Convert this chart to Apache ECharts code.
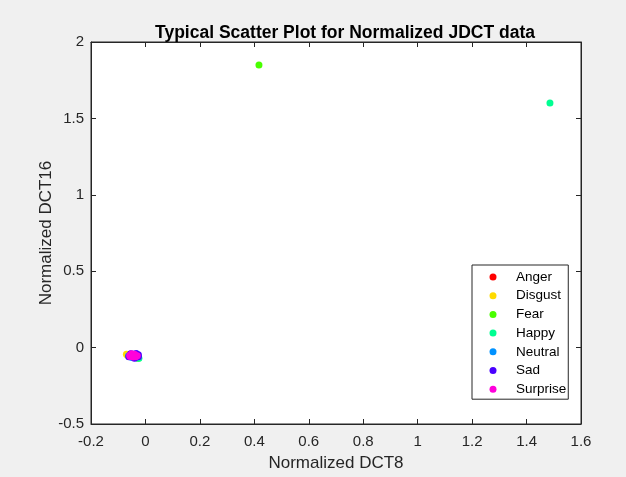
<!DOCTYPE html>
<html>
<head>
<meta charset="utf-8">
<script src="https://cdn.jsdelivr.net/npm/echarts@6/dist/echarts.min.js"></script>
<style>
html,body{margin:0;padding:0;background:#F0F0F0;}
#c{width:626px;height:477px;}
</style>
</head>
<body>
<div id="c"></div>
<script>
var classNames = ['Anger','Disgust','Fear','Happy','Neutral','Sad','Surprise'];
var classColors = ['#FF0000','#FFDB00','#49FF00','#00FF92','#0092FF','#4900FF','#FF00DB'];
var anger    = [[-0.048,-0.050],[-0.041,-0.056],[-0.052,-0.047],[-0.037,-0.052]];
var disgust  = [[-0.070,-0.044],[-0.066,-0.050],[-0.060,-0.046],[-0.052,-0.054]];
var fear     = [[0.417,1.849],[-0.026,-0.069],[-0.034,-0.066],[-0.045,-0.060]];
var happy    = [[1.486,1.601],[-0.024,-0.070],[-0.031,-0.066],[-0.042,-0.054]];
var neutral  = [[-0.062,-0.054],[-0.050,-0.064],[-0.036,-0.063],[-0.045,-0.044]];
var sad      = [[-0.061,-0.060],[-0.026,-0.060],[-0.040,-0.069],[-0.054,-0.040],[-0.026,-0.046],[-0.034,-0.038]];
var surprise = [[-0.058,-0.052],[-0.050,-0.041],[-0.040,-0.043],[-0.030,-0.053],[-0.046,-0.062],[-0.056,-0.058],[-0.036,-0.060],[-0.047,-0.051]];
var classData = [anger, disgust, fear, happy, neutral, sad, surprise];

var xMin = -0.2, xMax = 1.6, xStep = 0.2;
var yMin = -0.5, yMax = 2, yStep = 0.5;

var axisColor = '#262626';
var font = 'Liberation Sans, Arial, sans-serif';

function fmt(v){ return (Math.round(v*10)/10).toString(); }

var series = classNames.map(function(n,i){
  return {
    name: n, type: 'scatter', data: classData[i],
    symbol: 'circle', symbolSize: 7,
    itemStyle: {color: classColors[i], opacity: 1},
    xAxisIndex: 0, yAxisIndex: 0, animation: false
  };
});

var chart = echarts.init(document.getElementById('c'));
chart.setOption({
  backgroundColor: '#F0F0F0',
  animation: false,
  title: {
    text: 'Typical Scatter Plot for Normalized JDCT data',
    left: 340, top: 19, textAlign: 'center',
    textStyle: {fontFamily: font, fontWeight: 'bold', fontSize: 17.5, color: '#000'}
  },
  grid: {
    left: 91, top: 42, right: 45, bottom: 48,
    show: true, backgroundColor: '#FFFFFF', borderColor: axisColor, borderWidth: 1
  },
  legend: {
    orient: 'vertical', left: 472, top: 265,
    data: classNames,
    icon: 'circle', itemWidth: 7, itemHeight: 7, itemGap: 4.7,
    padding: [5, 2, 3, 17.5],
    borderColor: '#262626', borderWidth: 1, backgroundColor: '#FFFFFF',
    textStyle: {fontFamily: font, fontSize: 13.5, color: '#000', lineHeight: 14, padding: [0,0,0,14.5]}
  },
  xAxis: [{
    type: 'value', min: xMin, max: xMax, interval: xStep, position: 'bottom',
    name: 'Normalized DCT8', nameLocation: 'middle', nameGap: 31, nameMoveOverlap: false,
    nameTextStyle: {fontFamily: font, fontSize: 17, color: axisColor},
    axisLine: {show: true, onZero: false, lineStyle: {color: axisColor}},
    axisTick: {show: true, inside: true, length: 5, lineStyle: {color: axisColor}},
    axisLabel: {fontFamily: font, fontSize: 15, color: axisColor, margin: 10, formatter: fmt},
    splitLine: {show: false}
  },{
    type: 'value', min: xMin, max: xMax, interval: xStep, position: 'top',
    axisLine: {show: true, onZero: false, lineStyle: {color: axisColor}},
    axisTick: {show: true, inside: true, length: 5, lineStyle: {color: axisColor}},
    axisLabel: {show: false}, splitLine: {show: false}
  }],
  yAxis: [{
    type: 'value', min: yMin, max: yMax, interval: yStep, position: 'left',
    name: 'Normalized DCT16', nameLocation: 'middle', nameGap: 36, nameMoveOverlap: false,
    nameTextStyle: {fontFamily: font, fontSize: 17, color: axisColor},
    axisLine: {show: true, onZero: false, lineStyle: {color: axisColor}},
    axisTick: {show: true, inside: true, length: 5, lineStyle: {color: axisColor}},
    axisLabel: {fontFamily: font, fontSize: 15, color: axisColor, margin: 7, formatter: fmt},
    splitLine: {show: false}
  },{
    type: 'value', min: yMin, max: yMax, interval: yStep, position: 'right',
    axisLine: {show: true, onZero: false, lineStyle: {color: axisColor}},
    axisTick: {show: true, inside: true, length: 5, lineStyle: {color: axisColor}},
    axisLabel: {show: false}, splitLine: {show: false}
  }],
  series: series
});
</script>
</body>
</html>
